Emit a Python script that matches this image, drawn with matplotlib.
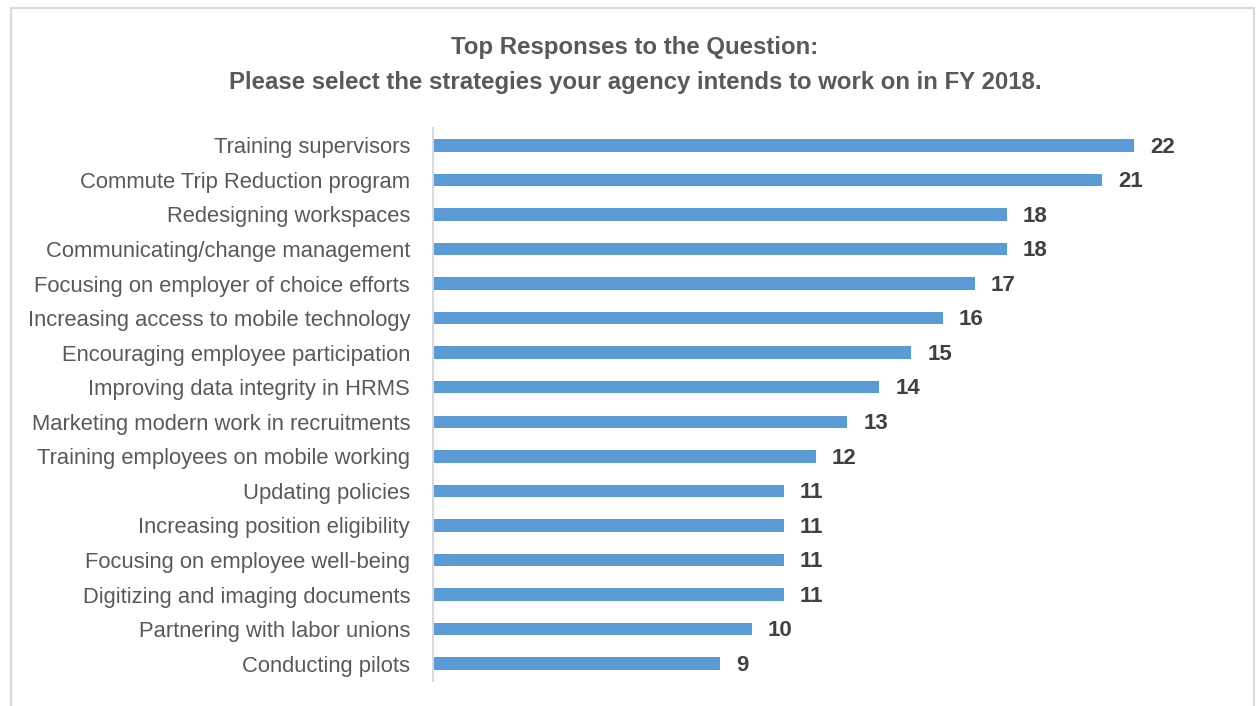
import matplotlib.pyplot as plt
from matplotlib.patches import Rectangle

plt.rcParams['font.family'] = ['Liberation Sans', 'DejaVu Sans']

strategies = [
    'Training supervisors',
    'Commute Trip Reduction program',
    'Redesigning workspaces',
    'Communicating/change management',
    'Focusing on employer of choice efforts',
    'Increasing access to mobile technology',
    'Encouraging employee participation',
    'Improving data integrity in HRMS',
    'Marketing modern work in recruitments',
    'Training employees on mobile working',
    'Updating policies',
    'Increasing position eligibility',
    'Focusing on employee well-being',
    'Digitizing and imaging documents',
    'Partnering with labor unions',
    'Conducting pilots',
]
counts = [22, 21, 18, 18, 17, 16, 15, 14, 13, 12, 11, 11, 11, 11, 10, 9]

title = ('Top Responses to the Question:\n'
         'Please select the strategies your agency intends to work on in FY 2018.')

fig = plt.figure(figsize=(12.59, 7.06), dpi=100)
# light frame around the chart area
fig.patches.append(Rectangle((11 / 1259, -0.05), 1243 / 1259, 1.0 - 8 / 706 + 0.05,
                             transform=fig.transFigure, fill=False,
                             edgecolor='#d9d9d9', linewidth=1.5))

ax = fig.add_axes([433 / 1259, 25 / 706, 797 / 1259, 553 / 706])
ypos = list(range(len(strategies)))
ax.barh(ypos, counts, height=0.36, color='#5b9bd5')
ax.set_ylim(len(strategies) - 0.5, -0.5)
ax.set_xlim(0, 25)

ax.set_yticks(ypos)
ax.set_yticklabels(strategies, fontsize=15.8, color='#595959')
ax.tick_params(axis='y', length=0, pad=16.5)
ax.set_xticks([])

for s in ['top', 'right', 'bottom']:
    ax.spines[s].set_visible(False)
ax.spines['left'].set_color('#d9d9d9')
ax.spines['left'].set_linewidth(1.5)

for y, v in zip(ypos, counts):
    ax.text(v + 0.5, y + 0.05, str(v), va='center', ha='left', fontsize=16,
            fontweight='bold', color='#404040')

fig.text(635 / 1259, 1 - 65 / 706, title, ha='center', va='center',
         fontsize=17.3, fontweight='bold', color='#595959', linespacing=1.62)

fig.savefig('out.png', dpi=100)
